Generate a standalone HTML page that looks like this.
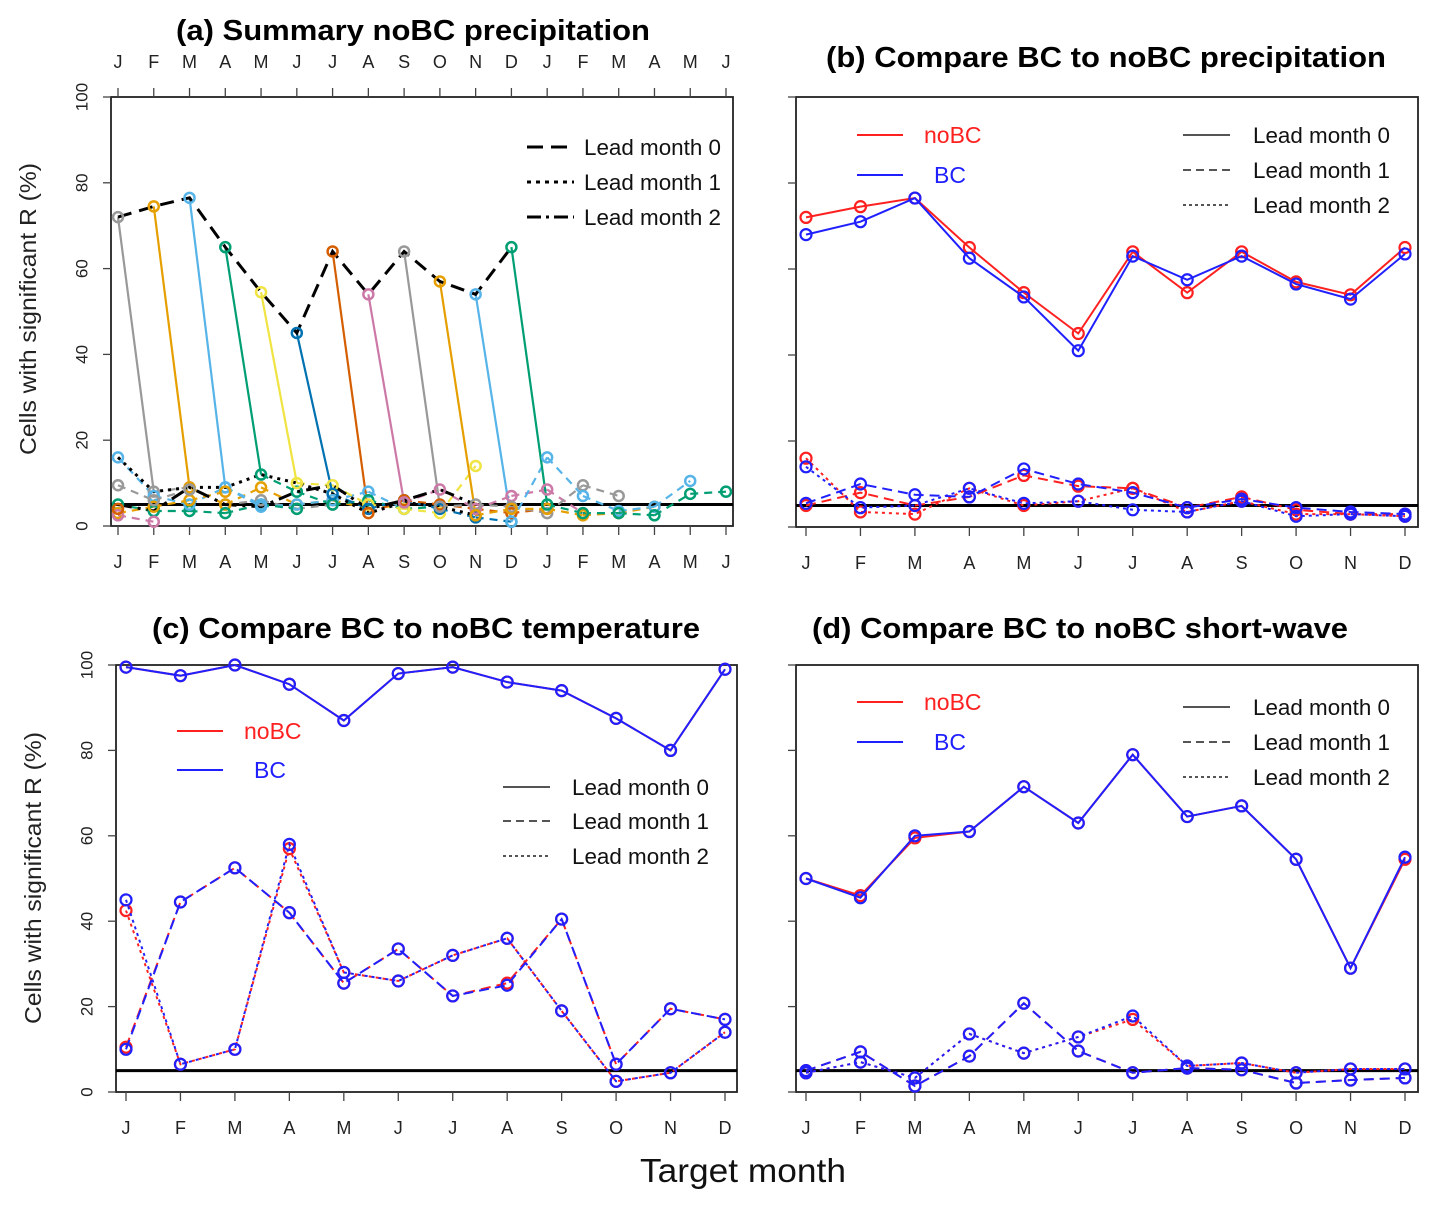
<!DOCTYPE html>
<html><head><meta charset="utf-8"><style>
html,body{margin:0;padding:0;background:#fff}
svg{display:block;font-family:"Liberation Sans",Arial,sans-serif}
</style></head><body>
<svg id="fig" width="1437" height="1206" viewBox="0 0 1437 1206" xmlns="http://www.w3.org/2000/svg">
<rect width="1437" height="1206" fill="#fff"/>
</svg>
<script>
// ---------- data ----------
const monthLabels = ["J","F","M","A","M","J","J","A","S","O","N","D"];
const yTicks = [0,20,40,60,80,100];
const aStarts = [0,1,2,3,4,5,6,7,8,9,10,11];
const aColors = ["#999999","#E69F00","#56B4E9","#009E73","#F0E442","#0072B2","#D55E00","#CC79A7","#999999","#E69F00","#56B4E9","#009E73"];
const aS0 = [72,8,9,5,6,4,5];
const aS1 = [74.5,9,5,9,5,6,4];
const aS2 = [76.5,9,4.5,5,6,8,4];
const aS3 = [65,12,8,5,6,4,4.5];
const aS4 = [54.5,10,9.5,5,4,3,14];
const aS5 = [45,7.5,4,6,4,2,1];
const aS6 = [64,3,6,5,4,3,4];
const aS7 = [54,5.5,8.5,4,7,8.5,3];
const aS8 = [64,4.5,5,4.5,3,9.5,7];
const aS9 = [57,2.5,4,4,2.5,3,4.5];
const aS10 = [54,1,16,7,3.5,4.5,10.5];
const aS11 = [65,5,3,3,2.5,7.5,8];
const aPriorStarts = [-1,-2,-3,-4,-5,-6];
const aPriorColors = ["#009E73","#56B4E9","#E69F00","#999999","#CC79A7","#D55E00"];
const aP1 = [null,5,3.5,3.5,3,5,4];
const aP2 = [null,null,16,7,5,9,5];
const aP3 = [null,null,null,3,4.5,6,8];
const aP4 = [null,null,null,null,9.5,6,8.5];
const aP5 = [null,null,null,null,null,2.5,1];
const aP6 = [null,null,null,null,null,null,4];
const bNoBC0 = [72,74.5,76.5,65,54.5,45,64,54.5,64,57,54,65];
const bBC0   = [68,71,76.5,62.5,53.5,41,63,57.5,63,56.5,53,63.5];
const bNoBC1 = [5,8,5,7,12,9.5,9,4.5,7,4,3,3];
const bBC1   = [5.5,10,7.5,7,13.5,10,8,4.5,6.5,4.5,3.5,3];
const bNoBC2 = [16,3.5,3,9,5,6,9,3.5,6,3,3,2.5];
const bBC2   = [14,4.5,5,9,5.5,6,4,3.5,6,2.5,3,2.5];
const cNoBC0 = [99.5,97.5,100,95.5,87,98,99.5,96,94,87.5,80,99];
const cBC0   = [99.5,97.5,100,95.5,87,98,99.5,96,94,87.5,80,99];
const cNoBC1 = [10.5,44.5,52.5,42,25.5,33.5,22.5,25.5,40.5,6.5,19.5,17];
const cBC1   = [10,44.5,52.5,42,25.5,33.5,22.5,25,40.5,6.5,19.5,17];
const cNoBC2 = [42.5,6.5,10,57,28,26,32,36,19,2.5,4.5,14];
const cBC2   = [45,6.5,10,58,28,26,32,36,19,2.5,4.5,14];
const dNoBC0 = [50,46,59.5,61,71.5,63,79,64.5,67,54.5,29,54.5];
const dBC0   = [50,45.5,60,61,71.5,63,79,64.5,67,54.5,29,55];
const dNoBC1 = [5,9.4,1.4,8.4,20.8,9.6,4.5,5.6,5.2,2.1,2.8,3.3];
const dBC1   = [5,9.4,1.4,8.4,20.8,9.6,4.5,5.6,5.2,2.1,2.8,3.3];
const dNoBC2 = [4.5,7,3.3,13.6,9.1,12.9,17,6.1,6.8,4.5,5.4,5.4];
const dBC2   = [4.5,7,3.3,13.6,9.1,12.9,17.8,6.1,6.8,4.5,5.4,5.4];
const threshold = 5;

// ---------- helpers ----------
const NS="http://www.w3.org/2000/svg";
const svg=document.getElementById('fig');
function mk(tag,attrs,parent,text){const e=document.createElementNS(NS,tag);for(const k in attrs)e.setAttribute(k,attrs[k]);if(text!==undefined)e.textContent=text;(parent||svg).appendChild(e);return e;}
function panel(name,x0,x1,y0,y1,xFirst,xLast,nMonths){
  const g=mk('g',{});
  
  
  const step=(xLast-xFirst)/(nMonths-1);
  return {g,x0,x1,y0,y1,sx:i=>xFirst+i*step,sy:v=>y1-v*4.27};
}
function frame(P,opts){
  const {g}=P;
  const r=mk('rect',{x:P.x0,y:P.y0,width:P.x1-P.x0,height:P.y1-P.y0,fill:'none',stroke:'#222','stroke-width':1.8},g);
  
  const n=opts.n;
  for(let i=0;i<n;i++){
    const x=P.sx(i);
    const t=mk('line',{x1:x,x2:x,y1:P.y1,y2:P.y1+9,stroke:'#444','stroke-width':1.3},g);
    
    const l=mk('text',{x:x,y:P.y1+42,'text-anchor':'middle','font-size':18,fill:'#222'},g,monthLabels[i%12]);
    
    if(opts.top){
      const t2=mk('line',{x1:x,x2:x,y1:P.y0,y2:P.y0-9,stroke:'#444','stroke-width':1.3},g);
      
      const l2=mk('text',{x:x,y:P.y0-29,'text-anchor':'middle','font-size':18,fill:'#222'},g,monthLabels[i%12]);
      
    }
  }
  yTicks.forEach(v=>{
    const y=P.sy(v);
    const t=mk('line',{x1:P.x0,x2:P.x0-8,y1:y,y2:y,stroke:'#444','stroke-width':1.3},g);
    
    if(opts.ylabels){
      const l=mk('text',{x:P.x0-29,y:y,'text-anchor':'middle','font-size':17,fill:'#222',transform:`rotate(-90 ${P.x0-29} ${y})`,'dominant-baseline':'central'},g,String(v));
      
    }
  });
  const th=mk('line',{x1:P.x0,x2:P.x1,y1:P.sy(threshold),y2:P.sy(threshold),stroke:'#000','stroke-width':3},g);
  
}
const DASH={0:'none',1:'10,6',2:'3,4'};
function series(P,vals,color,lead,name){
  const pts=vals.map((v,i)=>[P.sx(i),P.sy(v)]);
  const pl=mk('polyline',{points:pts.map(p=>p.join(',')).join(' '),fill:'none',stroke:color,'stroke-width':2,'stroke-dasharray':DASH[lead]},P.g);
  
  pts.forEach(p=>{
    const c=mk('circle',{cx:p[0],cy:p[1],r:5.5,fill:'none',stroke:color,'stroke-width':2.2},P.g);
    
  });
}
function compPanel(P,sets){ sets.forEach(s=>series(P,s[0],s[1],s[2],s[3])); }
function legendBC(g,x,y1,y2){
  [[y1,'#ff2020','noBC',x+67],[y2,'#2020ff','BC',x+77]].forEach(([y,c,t,tx])=>{
    const l=mk('line',{x1:x,x2:x+46,y1:y,y2:y,stroke:c,'stroke-width':2},g);
    
    const tt=mk('text',{x:tx,y:y+8,'font-size':23,fill:c},g,t);
    
  });
}
function legendLead(g,x,tx,ys,dashes,w){
  ys.forEach((y,i)=>{
    const l=mk('line',{x1:x,x2:x+47,y1:y,y2:y,stroke:w?'#000':'#555','stroke-width':w||2,'stroke-dasharray':dashes[i]},g);
    
    const t=mk('text',{x:tx,y:y+8,'font-size':22,fill:'#111',textLength:137,lengthAdjust:'spacingAndGlyphs'},g,'Lead month '+i);
    
  });
}
function title(x0,x1,y,t,name){
  const e=mk('text',{x:x0,y:y,'font-size':29,'font-weight':'bold',fill:'#000',textLength:x1-x0,lengthAdjust:'spacingAndGlyphs'},svg,t);
  
}

// ---------- panel a ----------
const A=panel('panel-a-summary-precipitation',111,733,97,526,118,726,18);
A.sy=v=>526-v*4.29;
frame(A,{n:18,top:true,ylabels:true});
const aAll=[aS0,aS1,aS2,aS3,aS4,aS5,aS6,aS7,aS8,aS9,aS10,aS11];
function colored(start,vals,color){
  for(let k=0;k<vals.length-1;k++){
    const i=start+k;
    if(vals[k]==null||vals[k+1]==null)continue;
    if(i<0||i+1>17)continue;
    const s=mk('line',{x1:A.sx(i),y1:A.sy(vals[k]),x2:A.sx(i+1),y2:A.sy(vals[k+1]),stroke:color,'stroke-width':2.2,'stroke-dasharray':k==0?'none':'8,6'},A.g);
    
    
  }
}
aAll.forEach((v,j)=>colored(aStarts[j],v,aColors[j]));
[aP1,aP2,aP3,aP4,aP5,aP6].forEach((v,j)=>colored(aPriorStarts[j],v,aPriorColors[j]));
const lead0pts=aAll.map((v,j)=>[A.sx(aStarts[j]),A.sy(v[0])]);
const lead1pts=[[A.sx(0),A.sy(aP2[2])]].concat(aAll.filter((v,j)=>aStarts[j]+1<=10).map((v,j)=>[A.sx(aStarts[j]+1),A.sy(v[1])]));
const lead2pts=[[A.sx(0),A.sy(aP1[1])],[A.sx(1),A.sy(aP1[2])]].concat(aAll.filter((v,j)=>aStarts[j]+2<=10).map((v,j)=>[A.sx(aStarts[j]+2),A.sy(v[2])]));
[[lead0pts,'14,8','summary-lead0-line'],[lead1pts,'3,5','summary-lead1-line'],[lead2pts,'14,6,3,6','summary-lead2-line']].forEach(([p,d,n])=>{
  const pl=mk('polyline',{points:p.map(q=>q.join(',')).join(' '),fill:'none',stroke:'#000','stroke-width':3,'stroke-dasharray':d},A.g);
  
});
function circlesA(start,vals,color){
  vals.forEach((v,k)=>{
    const i=start+k;if(v==null||i<0||i>17)return;
    const c=mk('circle',{cx:A.sx(i),cy:A.sy(v),r:5,fill:'none',stroke:color,'stroke-width':2.5},A.g);
    
    
  });
}
aAll.forEach((v,j)=>circlesA(aStarts[j],v,aColors[j]));
[aP1,aP2,aP3,aP4,aP5,aP6].forEach((v,j)=>circlesA(aPriorStarts[j],v,aPriorColors[j]));
legendLead(A.g,527,584,[147,182,217],['16,8','4,5','14,5,3,5'],3);
// ---------- panel b ----------
const B=panel('panel-b-precipitation-bc',796,1418,97,527,806,1405,12);
B.sy=v=>527-v*4.3;
frame(B,{n:12});
const R='#ff2020',BL='#2020ff';
compPanel(B,[[bNoBC2,R,2,'b-nobc-lead2'],[bNoBC1,R,1,'b-nobc-lead1'],[bNoBC0,R,0,'b-nobc-lead0'],[bBC2,BL,2,'b-bc-lead2'],[bBC1,BL,1,'b-bc-lead1'],[bBC0,BL,0,'b-bc-lead0']]);
legendBC(B.g,857,135,175);
legendLead(B.g,1183,1253,[135,170,205],['none','8,5','3,3']);
// ---------- panel c ----------
const C=panel('panel-c-temperature-bc',116,737,665,1092,126,725,12);
frame(C,{n:12,ylabels:true});
compPanel(C,[[cNoBC2,R,2,'c-nobc-lead2'],[cNoBC1,R,1,'c-nobc-lead1'],[cNoBC0,R,0,'c-nobc-lead0'],[cBC2,BL,2,'c-bc-lead2'],[cBC1,BL,1,'c-bc-lead1'],[cBC0,BL,0,'c-bc-lead0']]);
legendBC(C.g,177,731,770);
legendLead(C.g,503,572,[787,821,856],['none','8,5','3,3']);
// ---------- panel d ----------
const D=panel('panel-d-shortwave-bc',796,1418,665,1092,806,1405,12);
frame(D,{n:12});
compPanel(D,[[dNoBC2,R,2,'d-nobc-lead2'],[dNoBC1,R,1,'d-nobc-lead1'],[dNoBC0,R,0,'d-nobc-lead0'],[dBC2,BL,2,'d-bc-lead2'],[dBC1,BL,1,'d-bc-lead1'],[dBC0,BL,0,'d-bc-lead0']]);
legendBC(D.g,857,702,742);
legendLead(D.g,1183,1253,[707,742,777],['none','8,5','3,3']);

// ---------- titles ----------
title(176,650,40,'(a) Summary noBC precipitation','title-a');
title(826,1386,67,'(b) Compare BC to noBC precipitation','title-b');
title(152,700,638,'(c) Compare BC to noBC temperature','title-c');
title(812,1348,638,'(d) Compare BC to noBC short-wave','title-d');
const xt=mk('text',{x:640,y:1182,'font-size':33,fill:'#111',textLength:206,lengthAdjust:'spacingAndGlyphs'},svg,'Target month');

[[28,309],[33,878]].forEach(([x,y])=>{
  const t=mk('text',{x:x,y:y,'text-anchor':'middle','font-size':23,fill:'#222',transform:`rotate(-90 ${x} ${y})`,'dominant-baseline':'central',textLength:292,lengthAdjust:'spacingAndGlyphs'},svg,'Cells with significant R (%)');
  
});
</script>
</body></html>
